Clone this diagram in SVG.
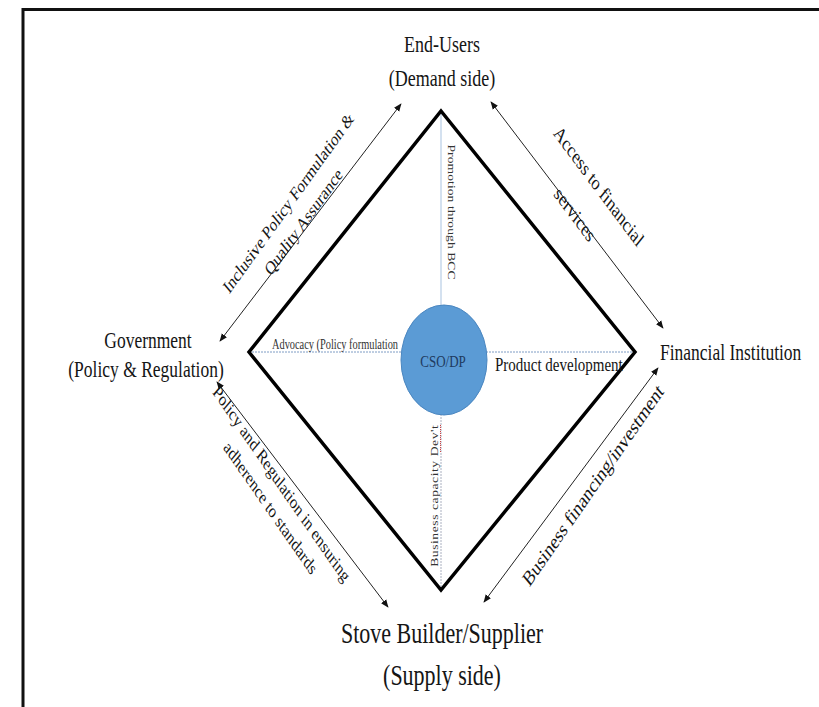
<svg xmlns="http://www.w3.org/2000/svg" width="819" height="707" viewBox="0 0 819 707">
<style>
  text { font-family: "Liberation Serif", "Times New Roman", serif; fill: #151515; }
  .lbl { font-size: 18px; text-anchor: middle; }
  .big { font-size: 22px; text-anchor: middle; }
  .diag { font-size: 14.5px; text-anchor: middle; }
  .small { font-size: 10.5px; fill: #333; }
  .arrow { stroke: #222; stroke-width: 1; fill: none; marker-start: url(#ah); marker-end: url(#ah); }
</style>
<defs>
  <marker id="ah" viewBox="0 0 10 10" refX="9" refY="5" markerWidth="8" markerHeight="8" markerUnits="userSpaceOnUse" orient="auto-start-reverse">
    <path d="M0,1 L10,5 L0,9 Z" fill="#111"/>
  </marker>
</defs>
<rect width="819" height="707" fill="#fff"/>
<path d="M23,707 V9.5 H819" fill="none" stroke="#111" stroke-width="3"/>

<g id="connectors">
  <line x1="441" y1="111" x2="441" y2="306" stroke="#a9c3e0" stroke-width="1"/>
  <line x1="249" y1="352" x2="635" y2="352" stroke="#7f9cc4" stroke-width="1" stroke-dasharray="2,1"/>
  <line x1="441" y1="414" x2="441" y2="590" stroke="#aab0c0" stroke-width="1" stroke-dasharray="2,1"/>
  <line class="arrow" x1="220" y1="341" x2="401" y2="104"/>
  <line class="arrow" x1="491" y1="102" x2="663" y2="328"/>
  <line class="arrow" x1="217" y1="382" x2="388" y2="607"/>
  <line class="arrow" x1="658" y1="368" x2="484" y2="602"/>
</g>

<g id="diamond">
  <polygon points="441,111 635,352 441,590 249,352" fill="none" stroke="#000" stroke-width="3.5" stroke-linejoin="miter"/>
</g>

<g id="cso">
  <ellipse cx="444" cy="360" rx="43" ry="55" fill="#5b9bd5" stroke="#4a86c0" stroke-width="1"/>
  <text transform="translate(443,367) scale(1,1.3)" style="font-size:13px;text-anchor:middle;fill:#1f3a60">CSO/DP</text>
</g>

<g id="end-users">
  <text class="lbl" transform="translate(442,52) scale(1,1.3)">End-Users</text>
  <text class="lbl" transform="translate(442,86) scale(1,1.3)">(Demand side)</text>
</g>

<g id="government">
  <text class="lbl" style="font-size:17.5px" transform="translate(148,348) scale(1,1.3)">Government</text>
  <text class="lbl" style="font-size:17.5px" transform="translate(146,377) scale(1,1.3)">(Policy &amp; Regulation)</text>
</g>

<g id="financial">
  <text style="font-size:17.5px" transform="translate(660,360) scale(1,1.3)">Financial Institution</text>
</g>

<g id="stove">
  <text class="big" transform="translate(442,643) scale(1,1.3)">Stove Builder/Supplier</text>
  <text class="big" transform="translate(442,685) scale(1,1.3)">(Supply side)</text>
</g>

<g id="edge-labels">
  <text class="diag" transform="translate(292,207) scale(1,1.3) rotate(-47)">Inclusive Policy Formulation &amp;</text>
  <text class="diag" transform="translate(307,226) scale(1,1.3) rotate(-47)">Quality Assurance</text>
  <text class="diag" style="font-size:16px" transform="translate(595,191) scale(1,1.3) rotate(46)">Access to financial</text>
  <text class="diag" style="font-size:16px" transform="translate(571,219) scale(1,1.3) rotate(46)">services</text>
  <text class="diag" transform="translate(278,488) scale(1,1.3) rotate(48)">Policy and Regulation in ensuring</text>
  <text class="diag" transform="translate(267,512) scale(1,1.3) rotate(48)">adherence to standards</text>
  <text class="diag" style="font-size:16.5px" transform="translate(597,490) scale(1,1.3) rotate(-48)">Business financing/investment</text>
</g>

<g id="inner-labels">
  <text class="small" transform="translate(448,212) scale(1,1.3) rotate(90)" text-anchor="middle" textLength="104" lengthAdjust="spacing">Promotion through BCC</text>
  <text class="small" transform="translate(438,496) scale(1,1.3) rotate(-90)" text-anchor="middle" textLength="109" lengthAdjust="spacing">Business capacity Dev't</text>
  <line x1="440.5" y1="425" x2="440.5" y2="452" stroke="#d04040" stroke-width="1" stroke-dasharray="1,1"/>
  <text class="small" transform="translate(272,349) scale(1,1.3)" textLength="126" lengthAdjust="spacingAndGlyphs">Advocacy (Policy formulation</text>
  <text style="font-size:15px" transform="translate(495,371) scale(1,1.3)">Product development</text>
</g>
</svg>
